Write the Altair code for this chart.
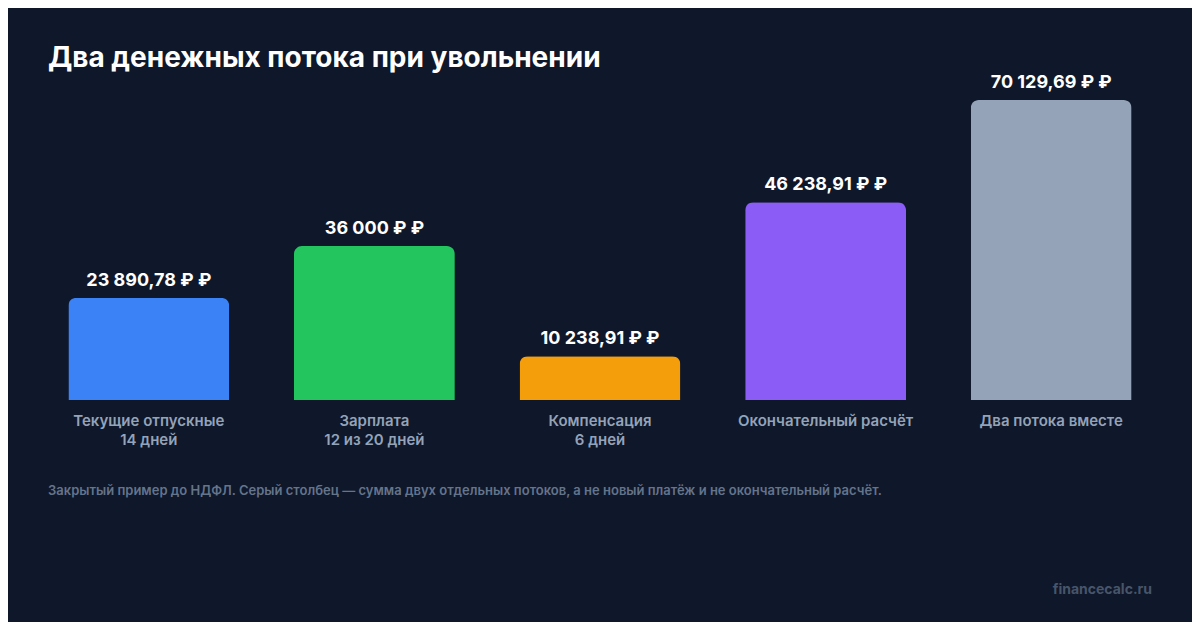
import altair as alt
import pandas as pd

categories = ["Текущие отпускные\n14 дней", "Зарплата\n12 из 20 дней",
              "Компенсация\n6 дней", "Окончательный расчёт", "Два потока вместе"]
values = [23890.78, 36000.0, 10238.91, 46238.91, 70129.69]
value_labels = ["23 890,78 ₽ ₽", "36 000 ₽ ₽", "10 238,91 ₽ ₽", "46 238,91 ₽ ₽", "70 129,69 ₽ ₽"]
colors = ["#3b82f6", "#22c55e", "#f59e0b", "#8b5cf6", "#94a3b8"]

title_text = "Два денежных потока при увольнении"
footnote_text = ("Закрытый пример до НДФЛ. Серый столбец — сумма двух отдельных потоков, "
                 "а не новый платёж и не окончательный расчёт.")
source_text = "financecalc.ru"

FONT = "Inter"
BG = "#0f172a"

df = pd.DataFrame({"cat": categories, "value": values, "label": value_labels, "color": colors})

x = alt.X("cat:N", sort=categories,
          scale=alt.Scale(paddingInner=0.287, paddingOuter=0.1435),
          axis=alt.Axis(title=None, domain=False, ticks=False, labelAngle=0,
                        labelFont=FONT, labelFontSize=15, labelFontWeight=600,
                        labelColor="#94a3b8", labelPadding=13, labelLineHeight=19,
                        labelExpr="split(datum.label, '\\n')", labelBaseline="top"))
y = alt.Y("value:Q", scale=alt.Scale(domain=[0, max(values)], nice=False),
          axis=None)

bars = alt.Chart(df).mark_bar(cornerRadiusTopLeft=8, cornerRadiusTopRight=8).encode(
    x=x, y=y, color=alt.Color("color:N", scale=None))

labels = alt.Chart(df).mark_text(font=FONT, fontSize=18, fontWeight=700, color="#ffffff",
                                  baseline="alphabetic", dy=-12).encode(
    x=alt.X("cat:N", sort=categories), y="value:Q", text="label:N")

title = alt.Chart(pd.DataFrame({"t": [title_text]})).mark_text(
    font=FONT, fontSize=28, fontWeight=700, color="#ffffff", align="left",
    baseline="alphabetic").encode(x=alt.value(12), y=alt.value(-33), text="t:N")

foot = alt.Chart(pd.DataFrame({"t": [footnote_text]})).mark_text(
    font=FONT, fontSize=13, fontWeight=600, color="#64748b", align="left",
    baseline="middle").encode(x=alt.value(12), y=alt.value(391), text="t:N")

src = alt.Chart(pd.DataFrame({"t": [source_text]})).mark_text(
    font=FONT, fontSize=14, fontWeight=700, color="#475569", align="right",
    baseline="middle").encode(x=alt.value(1116), y=alt.value(490), text="t:N")

chart = alt.layer(bars, labels, title, foot, src).properties(
    width=1128, height=300,
    autosize=alt.AutoSizeParams(type="none"),
    padding={"left": 28, "top": 92, "right": 28, "bottom": 222},
    background=BG,
).configure_view(stroke=None)

chart.save("out.html", embed_options={"renderer": "svg", "actions": False})
